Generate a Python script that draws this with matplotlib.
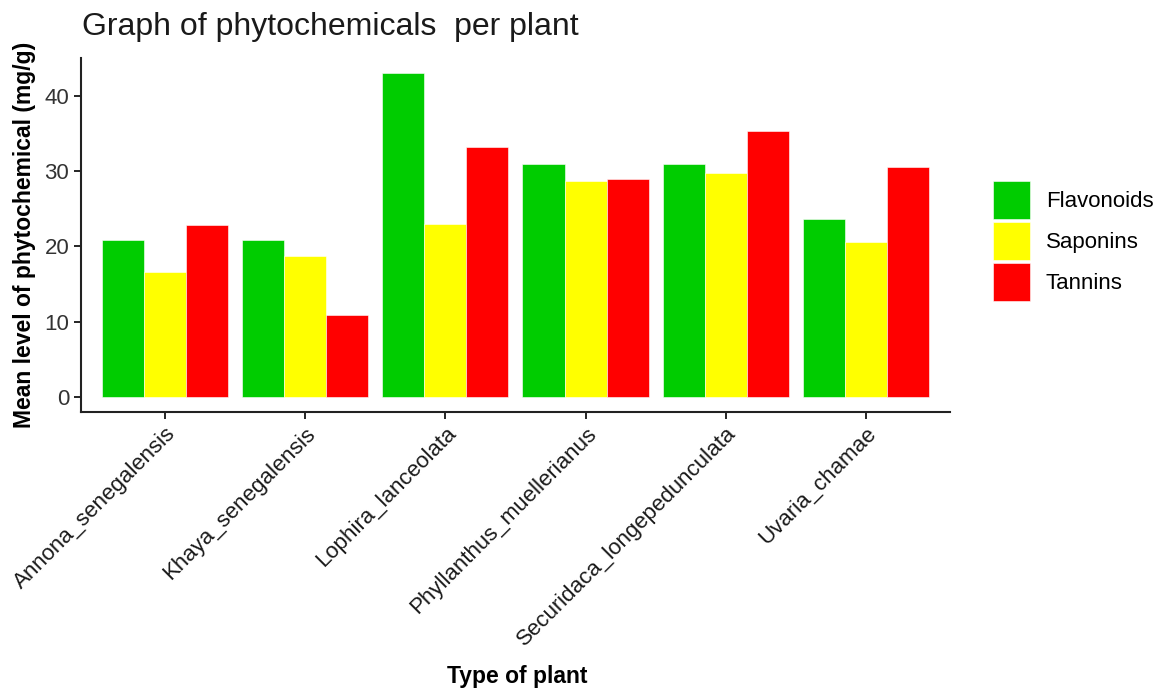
import numpy as np
import matplotlib
matplotlib.use('Agg')
import matplotlib.pyplot as plt

plt.rcParams['font.family'] = ['Liberation Sans', 'DejaVu Sans']

plants = ['Annona_senegalensis', 'Khaya_senegalensis', 'Lophira_lanceolata',
          'Phyllanthus_muellerianus', 'Securidaca_longepedunculata', 'Uvaria_chamae']
flavonoids = [20.9, 20.9, 43.0, 30.9, 30.9, 23.7]
saponins = [16.6, 18.7, 23.0, 28.7, 29.7, 20.6]
tannins = [22.8, 10.9, 33.2, 29.0, 35.4, 30.6]

series = [('Flavonoids', flavonoids, '#00CC00'),
          ('Saponins', saponins, '#FFFF00'),
          ('Tannins', tannins, '#FF0000')]

fig = plt.figure(figsize=(11.58, 6.88), dpi=100)
ax = fig.add_axes([0.0699, 0.4012, 0.7505, 0.5145])

x = np.arange(1, len(plants) + 1)
w = 0.3
for i, (name, vals, col) in enumerate(series):
    ax.bar(x + (i - 1) * w, vals, width=w, color=col, label=name,
           edgecolor='white', linewidth=0.4)

ax.set_xlim(0.4, 6.6)
ax.set_ylim(-2.0, 45.05)
ax.set_xticks(x)
ax.set_xticklabels(plants, rotation=45, ha='right', rotation_mode='anchor',
                   fontsize=16, color='#1a1a1a')
ax.set_yticks([0, 10, 20, 30, 40])
ax.tick_params(axis='y', labelsize=16, labelcolor='#333333', length=5, width=1.2)
ax.tick_params(axis='x', length=5, width=1.2, pad=3)
for s in ['top', 'right']:
    ax.spines[s].set_visible(False)
for s in ['left', 'bottom']:
    ax.spines[s].set_linewidth(1.5)
    ax.spines[s].set_color('#222222')

ax.set_ylabel('Mean level of phytochemical (mg/g)', fontsize=16.5,
              fontweight='bold', labelpad=6)
fig.text(0.447, 0.0, 'Type of plant', fontsize=16.5, fontweight='bold',
         ha='center', va='bottom')
fig.text(0.0708, 0.961, 'Graph of phytochemicals  per plant', fontsize=23,
         ha='left', va='center', color='#1a1a1a')

ax.legend(loc='center left', bbox_to_anchor=(1.049, 0.483), frameon=False,
          fontsize=16, handlelength=1.7, handleheight=2.25, labelspacing=0.12,
          handletextpad=0.7, borderaxespad=0, borderpad=0)

fig.savefig('out.png', dpi=100)
